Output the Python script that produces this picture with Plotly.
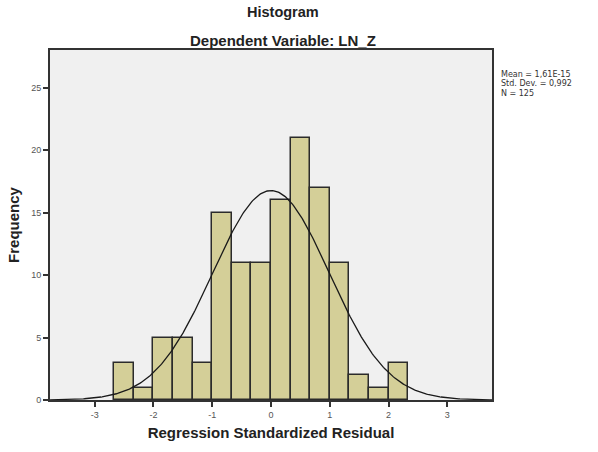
import numpy as np
import plotly.graph_objects as go

# Histogram data
bin_left_edges = [-2.667, -2.333, -2.0, -1.667, -1.333, -1.0, -0.667, -0.333,
                  0.0, 0.333, 0.667, 1.0, 1.333, 1.667, 2.0]
bin_width = 1 / 3
frequencies = [3, 1, 5, 5, 3, 15, 11, 11, 16, 21, 17, 11, 2, 1, 3]

mean_val = 1.61e-15
std_val = 0.992
n_val = 125

x_ticks = [-3, -2, -1, 0, 1, 2, 3]
y_ticks = [0, 5, 10, 15, 20, 25]
stats_lines = ["Mean = 1,61E-15", "Std. Dev. = 0,992", "N = 125"]

centers = [e + bin_width / 2 for e in bin_left_edges]

# Fitted normal curve (from stated mean, sd, N)
xc = np.linspace(-3.76, 3.76, 400)
yc = n_val * bin_width * np.exp(-0.5 * ((xc - mean_val) / std_val) ** 2) / (std_val * np.sqrt(2 * np.pi))

fig = go.Figure()
fig.add_trace(go.Bar(
    x=centers, y=frequencies, width=bin_width,
    marker=dict(color="#d4cf98", line=dict(color="#2b2b2b", width=1.5)),
    showlegend=False, hoverinfo="skip",
))
fig.add_trace(go.Scatter(
    x=xc, y=yc, mode="lines",
    line=dict(color="#1a1a1a", width=1.3),
    showlegend=False, hoverinfo="skip",
))

font_family = "Liberation Sans, Arial, sans-serif"

L, R, T, B = 50, 106, 50, 52
W, H = 598, 452
plot_w = W - L - R
plot_h = H - T - B


def px_to_paper(px, py):
    return (px - L) / plot_w, (H - B - py) / plot_h


annotations = []
for text, (px, py), size in [("<b>Histogram</b>", (283, 12), 14.5),
                             ("<b>Dependent Variable: LN_Z</b>", (283, 40), 15)]:
    ax, ay = px_to_paper(px, py)
    annotations.append(dict(text=text, x=ax, y=ay, xref="paper", yref="paper",
                            xanchor="center", yanchor="middle", showarrow=False,
                            font=dict(size=size, color="#222")))
for i, line in enumerate(stats_lines):
    ax, ay = px_to_paper(499, 74 + i * 9.5)
    annotations.append(dict(text=line, x=ax, y=ay, xref="paper", yref="paper",
                            xanchor="left", yanchor="middle", showarrow=False,
                            font=dict(size=8, color="#333", family="DejaVu Sans, sans-serif")))

fig.update_layout(
    width=W, height=H,
    margin=dict(l=L, r=R, t=T, b=B),
    paper_bgcolor="white",
    plot_bgcolor="#f0f0f0",
    bargap=0,
    font=dict(family=font_family, color="#222"),
    xaxis=dict(
        range=[-3.76, 3.76],
        tickmode="array", tickvals=x_ticks, ticktext=[str(v) for v in x_ticks],
        ticks="outside", ticklen=5, tickwidth=1.5, tickcolor="#333",
        tickfont=dict(size=9, color="#555"),
        showgrid=False, zeroline=False,
        showline=True, linecolor="#333", linewidth=2, mirror=True,
        title=dict(text="<b>Regression Standardized Residual</b>",
                   font=dict(size=15, color="#222"), standoff=9),
    ),
    yaxis=dict(
        range=[0, 28],
        tickmode="array", tickvals=y_ticks, ticktext=[str(v) for v in y_ticks],
        ticks="outside", ticklen=5, tickwidth=1.5, tickcolor="#333",
        tickfont=dict(size=9, color="#555"),
        showgrid=False, zeroline=False,
        showline=True, linecolor="#333", linewidth=2, mirror=True,
        title=dict(text="<b>Frequency</b>", font=dict(size=15, color="#222"), standoff=8),
    ),
    annotations=annotations,
)

fig.write_html("out.html")
